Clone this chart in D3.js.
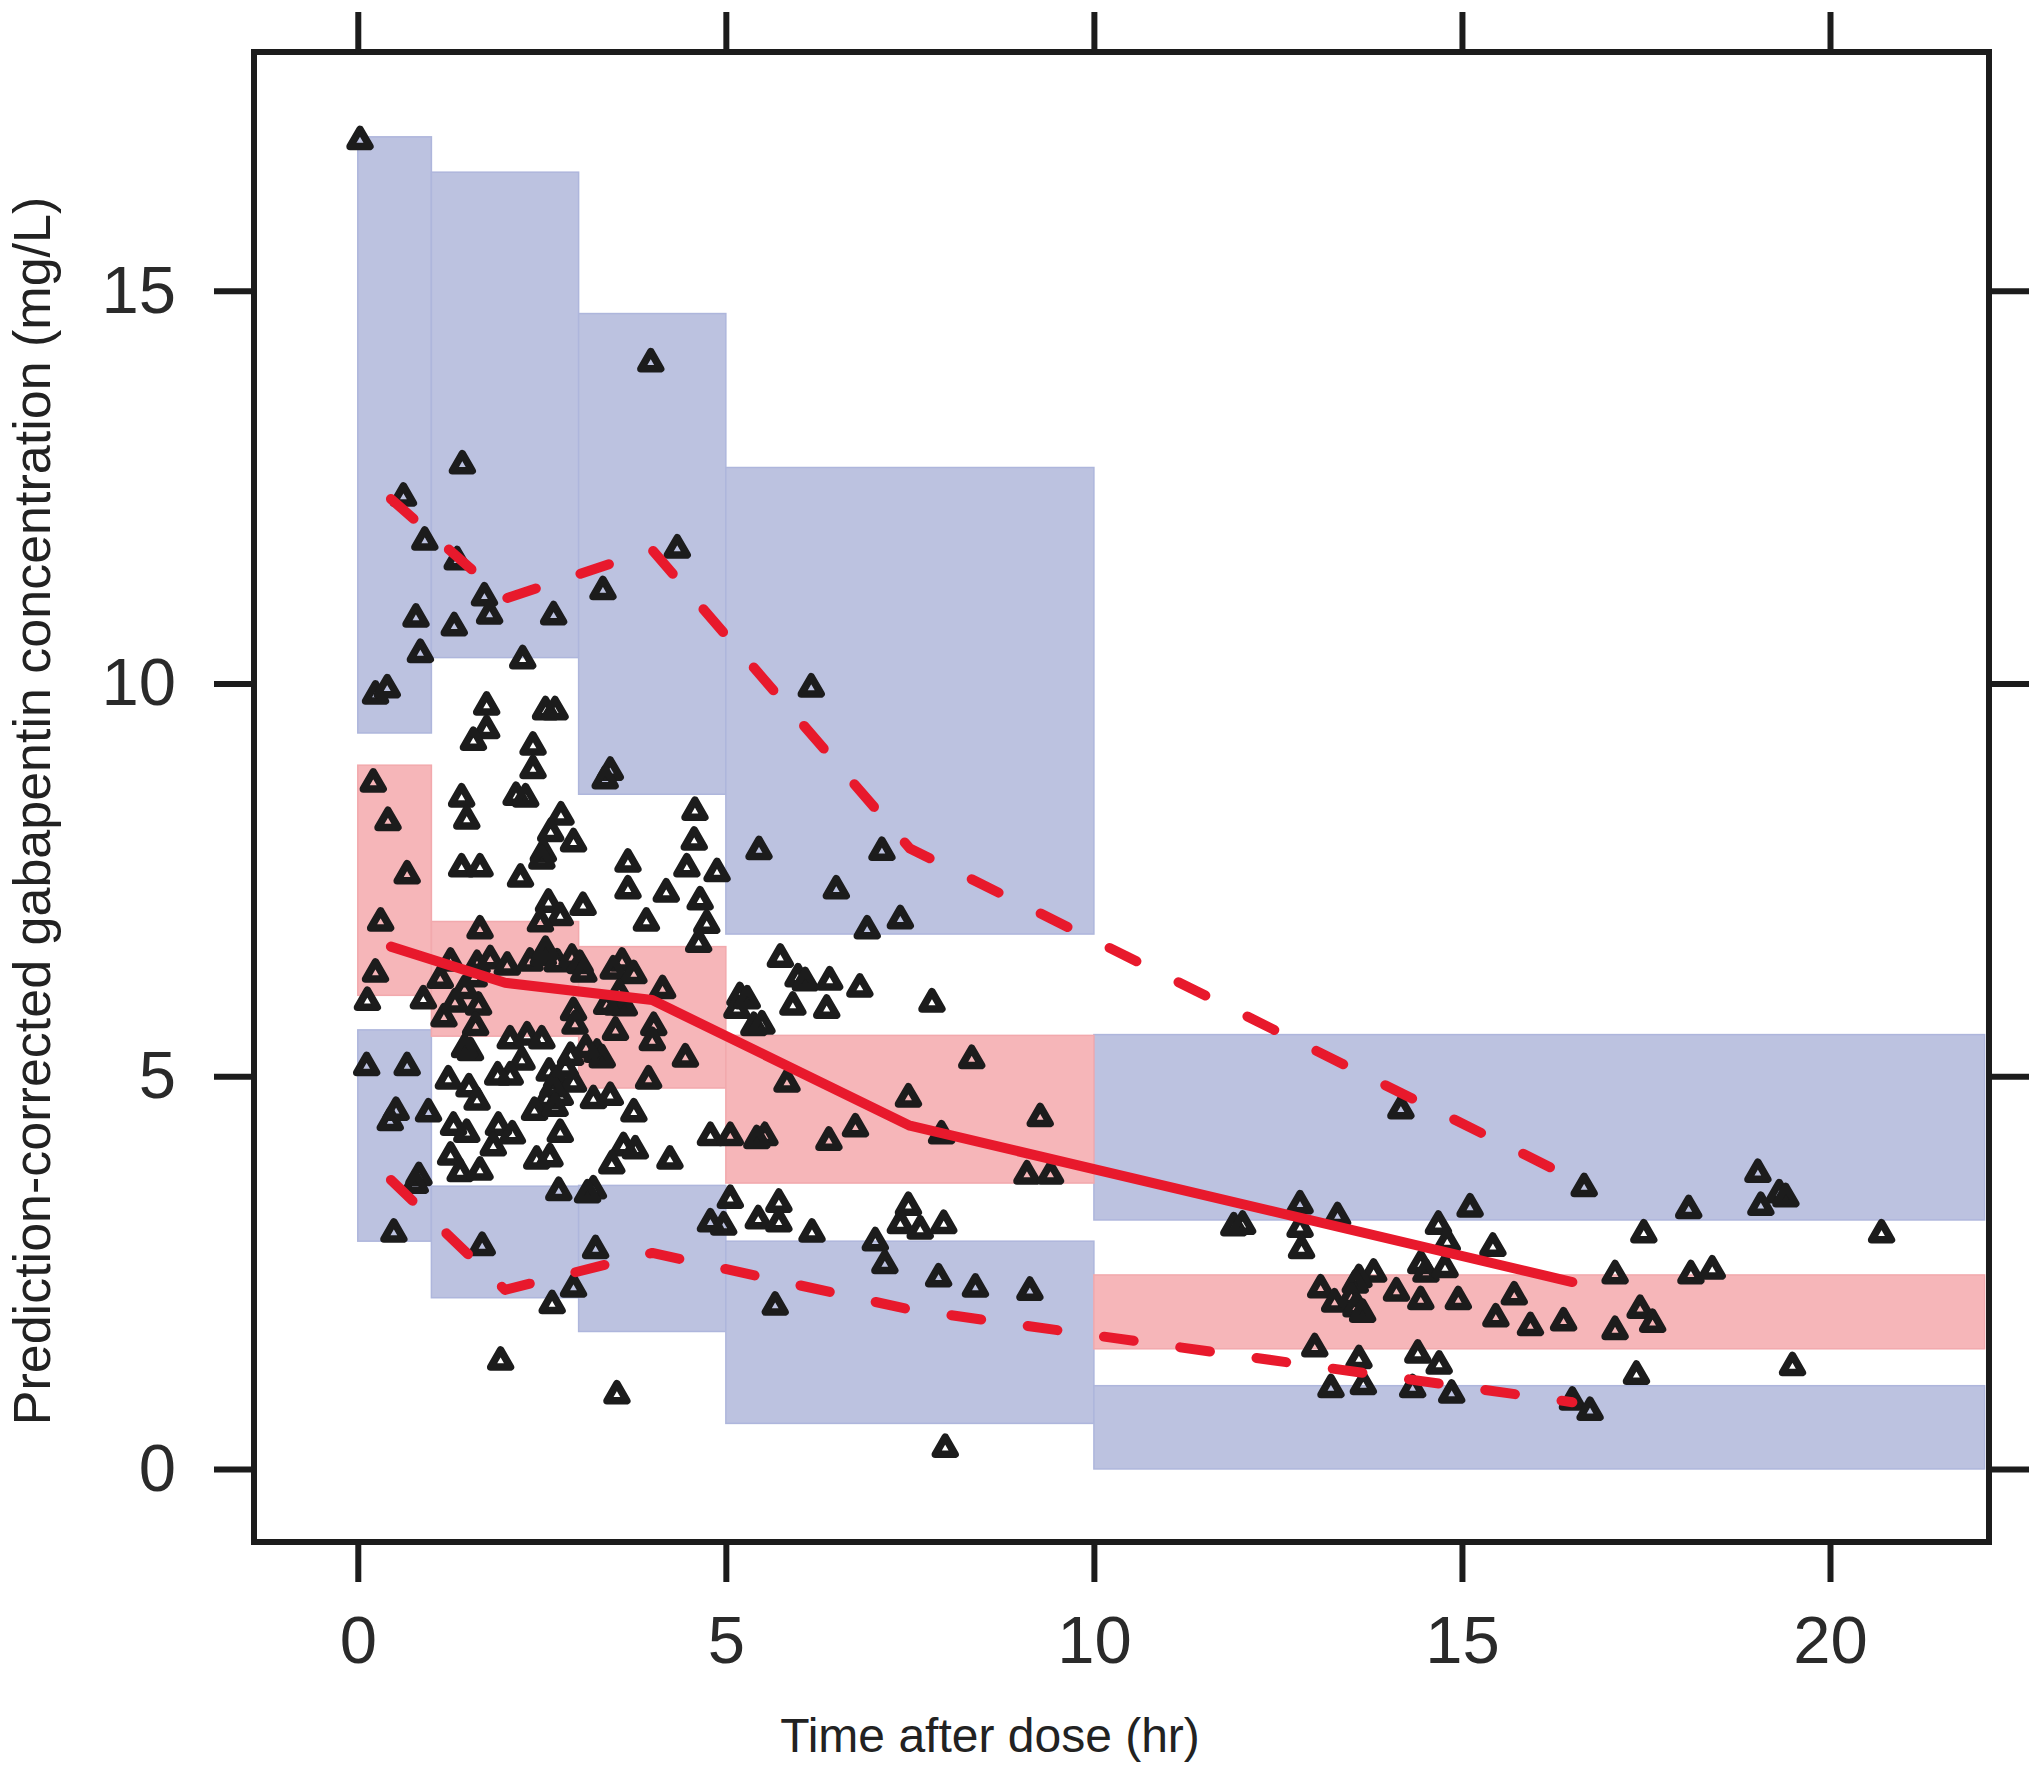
<!DOCTYPE html>
<html><head><meta charset="utf-8">
<script src="https://cdn.jsdelivr.net/npm/d3@7/dist/d3.min.js"></script>
<style>body{margin:0;background:#fff}</style>
</head><body>
<svg id="chart" width="2040" height="1776"></svg>
<script>
// ---- VPC bins (hr) and confidence bands (mg/L) ----
const binEdges = [0, 1, 3, 5, 10, 22.1];
const upperLo = [9.37, 10.33, 8.59, 6.81, 3.17];
const upperHi = [16.96, 16.51, 14.71, 12.75, 5.53];
const medLo   = [6.03, 5.51, 4.85, 3.64, 1.53];
const medHi   = [8.96, 6.97, 6.65, 5.52, 2.47];
const lowerLo = [2.90, 2.18, 1.75, 0.58, 0.0];
const lowerHi = [5.59, 3.60, 3.61, 2.90, 1.06];

// ---- observed percentile lines ----
const lineTimes = [0.45, 2.0, 4.0, 7.5, 16.5];
const obsMedian = [6.65, 6.19, 5.97, 4.37, 2.38];
const obsP95    = [12.35, 11.08, 11.7, 7.9, 3.7];
const obsP05    = [3.68, 2.28, 2.75, 2.03, 0.85];

// ---- observations (time hr, prediction-corrected conc mg/L) ----
const obsTime = [
 0.03,0.62,0.91,0.79,0.85,0.24,0.40,0.21,0.41,0.67,0.31,0.24,0.13,0.12,0.67,0.44,0.52,0.96,0.83,0.78,0.49,
 1.42,1.35,1.72,1.79,1.31,2.66,2.24,1.75,1.75,1.57,2.55,2.68,2.38,2.38,2.15,2.28,1.41,1.48,1.41,1.66,2.21,
 2.76,2.62,2.52,2.93,2.50,2.59,2.75,2.48,1.66,3.06,
 1.26,1.62,1.80,2.03,2.34,2.52,2.71,2.91,3.02,3.59,
 1.12,0.89,1.17,1.32,1.64,1.60,1.53,1.45,2.07,2.30,2.50,2.23,2.07,2.89,
 2.60,2.70,2.57,2.75,2.93,2.65,1.23,1.51,1.62,
 1.30,1.48,1.91,1.84,2.75,2.43,2.61,1.26,1.39,1.66,2.73,1.69,2.93,2.64,1.94,
 3.98,4.34,3.33,3.43,3.36,4.58,4.57,4.47,4.88,3.67,3.67,4.19,4.65,4.74,4.63,3.92,
 3.07,3.47,3.75,4.14,2.93,2.95,3.52,3.62,3.50,4.02,4.00,3.25,3.32,4.45,3.95,
 3.20,3.43,3.75,3.61,3.77,3.45,4.24,4.79,5.06,3.20,3.12,3.23,3.52,4.79,4.97,5.06,
 6.16,5.45,7.12,6.50,6.92,7.37,5.74,5.98,6.08,6.41,6.82,5.91,6.37,7.80,
 5.19,5.15,5.29,5.38,5.49,8.34,5.83,7.48,9.27,6.76,5.53,6.40,7.93,5.42,9.09,9.41,
 5.44,5.72,5.72,6.17,7.48,7.37,7.64,7.96,7.03,7.16,7.89,8.39,9.13,5.67,7.98,
 14.17,16.66,19.02,19.31,19.06,19.40,18.08,15.11,12.80,13.31,11.90,12.02,12.80,12.82,14.68,14.80,15.42,17.47,20.70,
 14.44,14.51,14.77,13.80,13.60,13.55,17.08,18.11,18.40,
 13.08,13.27,13.50,13.56,13.65,14.11,14.44,14.95,15.71,15.46,15.93,16.38,17.08,17.42,17.59,
 13.00,13.60,14.40,14.69,17.37,19.49,13.22,13.66,14.33,14.86,16.50,16.74,
 1.45,1.58,2.40,2.82,2.68,3.10,3.38,2.55,2.10,1.90,3.55
];
const obsConc = [
 16.91,12.37,11.81,10.83,10.38,9.85,9.93,8.73,8.24,7.56,6.96,6.31,5.95,5.12,5.12,4.42,4.55,4.53,3.72,3.62,3.00,
 12.78,11.56,11.10,10.87,10.72,10.86,10.30,9.71,9.41,9.26,9.65,9.65,9.20,8.90,8.56,8.54,8.54,8.26,7.65,7.65,7.52,
 8.31,8.10,7.84,7.97,7.75,7.20,7.03,6.95,6.86,7.16,
 6.45,6.42,6.48,6.40,6.45,6.52,6.44,6.50,6.42,6.45,
 6.23,5.97,5.74,5.93,5.89,5.63,5.31,5.35,5.46,5.51,5.46,5.19,5.00,5.25,
 5.05,4.95,4.70,4.74,4.91,4.85,4.95,4.85,4.68,
 4.36,4.27,4.36,4.10,4.27,3.93,3.96,3.98,3.77,3.79,3.53,2.83,2.30,2.09,1.37,
 14.08,11.71,11.18,8.88,8.77,8.37,7.99,7.65,7.59,7.71,7.37,7.33,7.23,6.93,6.69,6.96,
 6.31,6.35,6.29,6.10,5.82,5.65,5.89,5.88,5.57,5.63,5.44,5.29,5.22,5.23,4.95,
 4.70,4.74,4.53,4.10,4.06,3.87,3.93,4.23,4.23,3.55,3.50,2.79,0.94,3.13,3.09,3.43,
 9.94,7.87,7.86,7.37,6.86,6.99,6.50,6.25,6.20,6.21,6.12,5.89,5.85,5.93,
 6.01,5.85,5.97,5.63,5.65,5.21,4.91,4.72,4.47,4.34,4.23,4.17,4.25,4.19,3.74,3.74,
 3.17,3.38,3.13,3.00,3.34,3.11,3.04,3.11,2.89,2.60,2.43,2.30,2.26,2.07,0.26,
 4.57,3.58,3.76,3.50,3.34,3.45,3.30,3.32,3.36,3.21,3.08,3.10,3.06,2.79,3.10,2.88,2.82,2.99,2.99,
 2.60,2.49,2.55,2.49,2.42,2.35,2.47,2.47,2.53,
 2.29,2.11,2.18,2.05,1.98,2.25,2.14,2.14,2.20,1.92,1.81,1.87,1.76,2.03,1.85,
 1.54,1.39,1.46,1.32,1.19,1.30,1.02,1.06,1.02,0.95,0.86,0.73,
 6.10,6.25,4.55,5.10,4.60,5.35,5.90,6.60,4.25,5.00,6.05
];

const xTicks = [0, 5, 10, 15, 20];
const yTicks = [0, 5, 10, 15];
const xTitle = "Time after dose (hr)";
const yTitle = "Prediction-corrected gabapentin concentration (mg/L)";

// ---- layout ----
const frame = {left: 254, right: 1989, top: 52, bottom: 1542};
const x = d3.scaleLinear().domain([-1.41, 22.16]).range([frame.left, frame.right]);
const y = d3.scaleLinear().domain([-0.93, 18.04]).range([frame.bottom, frame.top]);

const svg = d3.select("#chart");
const ink = "#1c1c1c";
const fontFam = "'Liberation Sans', Arial, Helvetica, sans-serif";

svg.append("defs").append("clipPath").attr("id", "clip")
  .append("rect").attr("x", frame.left).attr("y", frame.top)
  .attr("width", frame.right - frame.left).attr("height", frame.bottom - frame.top);

const panel = svg.append("g").attr("clip-path", "url(#clip)");

const bins = d3.range(binEdges.length - 1);
function band(lo, hi, fill, stroke) {
  panel.append("g").selectAll("rect").data(bins).join("rect")
    .attr("x", i => x(binEdges[i]))
    .attr("width", i => x(binEdges[i + 1]) - x(binEdges[i]))
    .attr("y", i => y(hi[i]))
    .attr("height", i => y(lo[i]) - y(hi[i]))
    .attr("fill", fill)
    .attr("stroke", stroke).attr("stroke-width", 1.5);
}
band(upperLo, upperHi, "#bcc2e0", "#aeb6dc");
band(lowerLo, lowerHi, "#bcc2e0", "#aeb6dc");
band(medLo, medHi, "#f6b6b9", "#f2a9ad");

// observations
const tri = d3.symbol(d3.symbolTriangle, 170)();
panel.append("g").selectAll("path").data(obsTime).join("path")
  .attr("d", tri)
  .attr("transform", (t, i) => `translate(${x(t)},${y(obsConc[i])})`)
  .attr("fill", "none")
  .attr("stroke", ink)
  .attr("stroke-width", 7.5)
  .attr("stroke-linejoin", "round");

// percentile lines
const red = "#e8192c";
function pline(vals, dashed) {
  const line = d3.line().x((t) => x(t)).y((t, i) => y(vals[i]));
  const p = panel.append("path").datum(lineTimes).attr("d", line)
    .attr("fill", "none").attr("stroke", red)
    .attr("stroke-width", 10)
    .attr("stroke-linecap", "round").attr("stroke-linejoin", "round");
  if (dashed) p.attr("stroke-dasharray", "30,47");
}
pline(obsMedian, false);
pline(obsP95, true);
pline(obsP05, true);

// frame
svg.append("rect").attr("x", frame.left).attr("y", frame.top)
  .attr("width", frame.right - frame.left).attr("height", frame.bottom - frame.top)
  .attr("fill", "none").attr("stroke", ink).attr("stroke-width", 6);

// axes
function styleAxis(g) {
  g.select(".domain").remove();
  g.selectAll(".tick line").attr("stroke", ink).attr("stroke-width", 6);
  g.selectAll(".tick text").attr("fill", "#2a2a2a").attr("font-size", 67)
    .attr("font-family", fontFam);
}
svg.append("g").attr("transform", `translate(0,${frame.bottom})`)
  .call(d3.axisBottom(x).tickValues(xTicks).tickSize(40).tickPadding(33).tickFormat(d3.format("d")))
  .call(styleAxis);
svg.append("g").attr("transform", `translate(0,${frame.top})`)
  .call(d3.axisTop(x).tickValues(xTicks).tickSize(40).tickFormat(""))
  .call(styleAxis);
svg.append("g").attr("transform", `translate(${frame.left},0)`)
  .call(d3.axisLeft(y).tickValues(yTicks).tickSize(40).tickPadding(38).tickFormat(d3.format("d")))
  .call(styleAxis);
svg.append("g").attr("transform", `translate(${frame.right},0)`)
  .call(d3.axisRight(y).tickValues(yTicks).tickSize(40).tickFormat(""))
  .call(styleAxis);

// titles
svg.append("text").attr("x", 990).attr("y", 1752)
  .attr("text-anchor", "middle").attr("font-family", fontFam).attr("font-size", 48)
  .attr("fill", "#222").text(xTitle);
svg.append("text").attr("transform", "translate(50,811) rotate(-90)")
  .attr("text-anchor", "middle").attr("font-family", fontFam).attr("font-size", 52)
  .attr("fill", "#222").text(yTitle);
</script>
</body></html>
